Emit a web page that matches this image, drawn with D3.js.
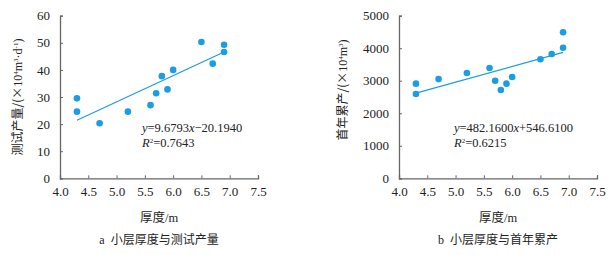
<!DOCTYPE html>
<html>
<head>
<meta charset="utf-8">
<script src="https://cdn.jsdelivr.net/npm/d3@7"></script>
<style>
  body { margin: 0; background: #fff; }
  svg text { font-family: "Liberation Serif", "Noto Sans CJK SC", serif; }
</style>
</head>
<body>
<div id="chart"></div>
<script>
// thickness (m) shared by both panels
const thickness = [4.3, 4.3, 4.7, 5.2, 5.6, 5.7, 5.8, 5.9, 6.0, 6.5, 6.7, 6.9, 6.9];
// panel a: test production (10^4 m3/d)
const testProd = [29.5, 24.6, 20.3, 24.6, 27.0, 31.4, 37.7, 32.8, 40.0, 50.3, 42.3, 49.3, 46.6];
// panel b: first-year cumulative production (10^4 m3)
const firstYear = [2910, 2590, 3050, 3240, 3390, 3000, 2715, 2910, 3115, 3660, 3820, 4490, 4015];

const xTicks = [4.0, 4.5, 5.0, 5.5, 6.0, 6.5, 7.0, 7.5];
const yTicksA = [0, 10, 20, 30, 40, 50, 60];
const yTicksB = [0, 1000, 2000, 3000, 4000, 5000];

const fitA = { slope: 9.6793, icpt: -20.1940, eq: ["9.6793", "\u221220.1940"], r2: "0.7643" };
const fitB = { slope: 482.16, icpt: 546.61, eq: ["482.1600", "+546.6100"], r2: "0.6215" };

const blue = "#1c9de3";

const svg = d3.select("#chart").append("svg")
  .attr("width", 615).attr("height", 255);

function panel(opts) {
  const g = svg.append("g").attr("transform", `translate(${opts.left},0)`);
  const w = 198, top = 15.7, bottom = 178.3;

  const x = d3.scaleLinear().domain([4.0, 7.5]).range([0, w]);
  const y = d3.scaleLinear().domain([0, d3.max(opts.yTicks)]).range([bottom, top]);

  const xAxis = g.append("g")
    .attr("transform", `translate(0,${bottom})`)
    .call(d3.axisBottom(x).tickValues(xTicks).tickFormat(d3.format(".1f")).tickSize(-3).tickPadding(8));
  const yAxis = g.append("g")
    .call(d3.axisLeft(y).tickValues(opts.yTicks).tickFormat(d3.format("d")).tickSize(-3).tickPadding(10));

  [xAxis, yAxis].forEach(a => {
    a.attr("font-family", null);
    a.select(".domain").attr("stroke", "#666").attr("stroke-width", 1.3);
    a.selectAll(".tick line").attr("stroke", "#666");
    a.selectAll(".tick text").attr("fill", "#222").style("font-size", "13px")
      .style("font-family", "'Liberation Serif'");
  });

  // trend line
  const x0 = d3.min(thickness), x1 = d3.max(thickness);
  g.append("line")
    .attr("x1", x(x0)).attr("y1", y(opts.fit.slope * x0 + opts.fit.icpt))
    .attr("x2", x(x1)).attr("y2", y(opts.fit.slope * x1 + opts.fit.icpt))
    .attr("stroke", blue).attr("stroke-width", 1.2);

  // points
  g.selectAll("circle.pt")
    .data(thickness.map((t, i) => [t, opts.values[i]]))
    .enter().append("circle")
    .attr("class", "pt")
    .attr("cx", d => x(d[0]))
    .attr("cy", d => y(d[1]))
    .attr("r", 3.3)
    .attr("fill", blue);

  // equation
  const eq = g.append("text")
    .attr("x", opts.eqX).attr("y", 132)
    .attr("fill", "#222").style("font-size", "12.5px");
  eq.append("tspan").attr("font-style", "italic").text("y");
  eq.append("tspan").text("=" + opts.fit.eq[0]);
  eq.append("tspan").attr("font-style", "italic").text("x");
  eq.append("tspan").text(opts.fit.eq[1]);

  const r2 = g.append("text")
    .attr("x", opts.eqX).attr("y", 147)
    .attr("fill", "#222").style("font-size", "12.5px");
  r2.append("tspan").attr("font-style", "italic").text("R");
  r2.append("tspan").attr("dy", -4).style("font-size", "7px").text("2");
  r2.append("tspan").attr("dy", 4).text("=" + opts.fit.r2);

  // x title
  const xt = g.append("text")
    .attr("x", w / 2).attr("y", 222)
    .attr("text-anchor", "middle").attr("fill", "#222").style("font-size", "12.5px");
  xt.append("tspan").style("font-family", "Noto Sans CJK SC").text("厚度");
  xt.append("tspan").text("/m");

  // caption
  const cap = g.append("text")
    .attr("x", w / 2).attr("y", 244)
    .attr("text-anchor", "middle").attr("fill", "#222").style("font-size", "12px");
  cap.append("tspan").text(opts.letter + "\u00a0\u00a0");
  cap.append("tspan").style("font-family", "Noto Sans CJK SC").text(opts.caption);

  // y title
  const yt = g.append("text")
    .attr("transform", `translate(${opts.yTitleX},${opts.yTitleY}) rotate(-90)`)
    .attr("text-anchor", "middle").attr("fill", "#222").style("font-size", "12px");
  yt.append("tspan").style("font-family", "Noto Sans CJK SC").text(opts.yName + "/(×");
  yt.append("tspan").text("10");
  yt.append("tspan").attr("dy", -4).style("font-size", "7px").text("4");
  yt.append("tspan").attr("dy", 4).text("m");
  yt.append("tspan").attr("dy", -4).style("font-size", "7px").text("3");
  if (opts.perDay) {
    yt.append("tspan").attr("dy", 4).text("·d");
    yt.append("tspan").attr("dy", -4).style("font-size", "7px").text("-1");
    yt.append("tspan").attr("dy", 4).text(")");
  } else {
    yt.append("tspan").attr("dy", 4).text(")");
  }
}

panel({
  left: 60, values: testProd, yTicks: yTicksA, fit: fitA, eqX: 82,
  letter: "a", caption: "小层厚度与测试产量",
  yName: "测试产量", perDay: true, yTitleX: -38, yTitleY: 97
});

panel({
  left: 399, values: firstYear, yTicks: yTicksB, fit: fitB, eqX: 55,
  letter: "b", caption: "小层厚度与首年累产",
  yName: "首年累产", perDay: false, yTitleX: -52, yTitleY: 90
});
</script>
</body>
</html>
